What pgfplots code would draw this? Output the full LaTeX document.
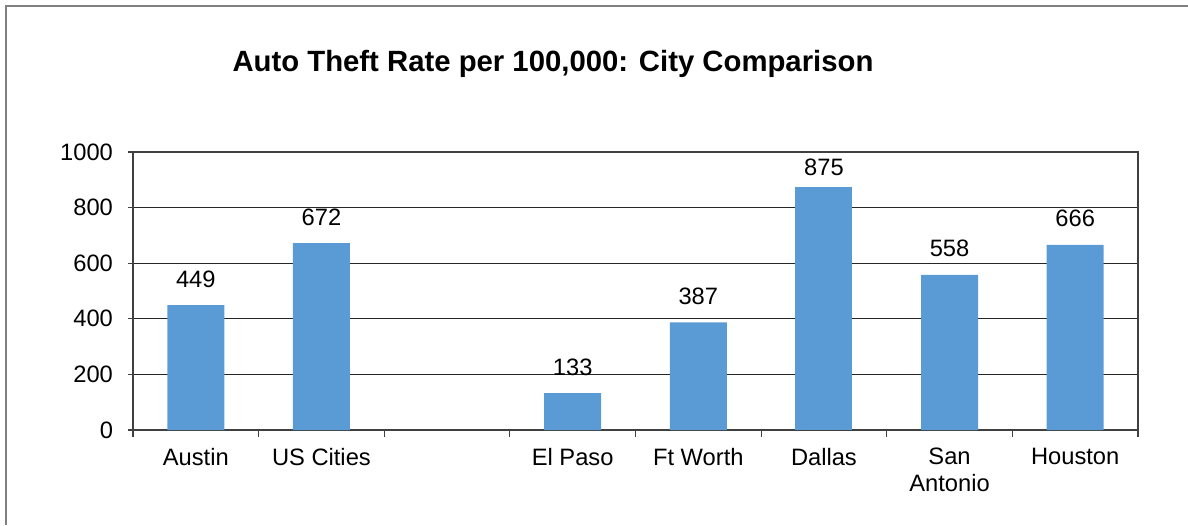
\documentclass[border=0pt]{standalone}
\usepackage{pgfplots}
\pgfplotsset{compat=1.18}
\usepackage{fontspec}
\setmainfont{Liberation Sans}
\definecolor{barblue}{HTML}{5B9BD5}
\begin{document}
\begin{tikzpicture}[x=0.5pt,y=0.5pt]
\useasboundingbox (0,0) rectangle (1188,525);
\draw[black!50, line width=1pt] (5,519) -- (1188,519);
\draw[black!50, line width=1pt] (6,519.5) -- (6,0);
\node[font=\fontsize{14.65}{16}\selectfont\bfseries] at (553,461) {Auto Theft Rate per 100,000: City Comparison};
\begin{axis}[
  at={(66.5pt,47.5pt)}, anchor=south west,
  scale only axis, width=502.5pt, height=139pt,
  xmin=-0.5, xmax=7.5, ymin=0, ymax=1000,
  clip=false,
  ytick={0,200,...,1000},
  xtick={0,1,3,4,5,6,7},
  xticklabels={Austin,US Cities,El Paso,Ft Worth,Dallas,San\\Antonio,Houston},
  minor xtick={-0.5,0.5,...,7.5},
  major x tick style={draw=none},
  tick align=outside,
  xtick pos=bottom, ytick pos=left,
  major tick length=2.5pt, minor tick length=3.5pt,
  tick style={black!75, line width=0.6pt},
  axis line style={black!75, line width=0.6pt},
  ymajorgrids, grid style={black!85, line width=0.5pt},
  ticklabel style={font=\fontsize{11.85}{13.5}\selectfont},
  /pgf/number format/assume math mode=true,
  y tick label style={xshift=-4pt},
  x tick label style={align=center, yshift=-3pt},
  ybar, bar width=28.5pt, bar shift=0pt,
  nodes near coords,
  every node near coord/.append style={font=\fontsize{11.85}{13.5}\selectfont, anchor=base},
  /pgf/number format/1000 sep={},
]
\addplot[fill=barblue, draw=none, every node near coord/.append style={yshift=9pt}] coordinates {(0,449) (1,672) (3,133) (4,387) (6,558) (7,666)};
\addplot[fill=barblue, draw=none, every node near coord/.append style={yshift=5.5pt}] coordinates {(5,875)};
\end{axis}
\end{tikzpicture}
\end{document}
